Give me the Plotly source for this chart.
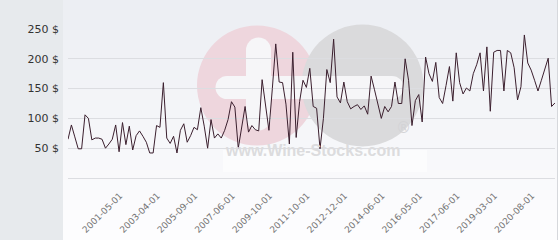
import plotly.graph_objects as go

# ---- data ----
prices = [
    65, 89, 69, 49, 49, 106, 100, 64, 67, 67,
    65, 50, 57, 65, 89, 44, 93, 56, 87, 47,
    71, 79, 70, 60, 42, 42, 88, 85, 160, 67,
    58, 70, 42, 80, 91, 60, 71, 85, 81, 118,
    87, 50, 98, 67, 74, 67, 80, 98, 128, 119,
    50, 85, 120, 77, 88, 81, 79, 165, 120, 80,
    150, 225, 161, 160, 124, 57, 211, 68, 128, 164,
    152, 184, 120, 117, 49, 100, 182, 160, 233, 136,
    126, 161, 128, 116, 120, 123, 115, 121, 107, 171,
    148, 122, 100, 120, 111, 120, 161, 125, 125, 200,
    164, 88, 130, 140, 94, 203, 175, 162, 194, 135,
    125, 155, 187, 129, 210, 160, 141, 151, 146, 175,
    190, 210, 146, 220, 112, 211, 214, 214, 146, 214,
    210, 185, 131, 153, 240, 193, 181, 164, 146, 164,
    181, 201, 120, 126,
]
tick_labels = [
    "2001-05-01", "2003-04-01", "2005-09-01", "2007-06-01", "2009-10-01",
    "2011-10-01", "2012-12-01", "2014-06-01", "2016-05-01", "2017-06-01",
    "2019-03-01", "2020-08-01",
]
y_ticks = [50, 100, 150, 200, 250]
y_tick_text = ["%d\u00a0$" % v for v in y_ticks]

first_tick = 17
tick_step = 11
idx = list(range(len(prices)))
tick_idx = [first_tick + tick_step * k for k in range(len(tick_labels))]

# ---- layout geometry (pixels) ----
FW, FH = 560, 240
L, R, T, B = 68, 5, 29, 62
PW, PH = FW - L - R, FH - T - B


def px(x):
    return (x - L) / PW


def py(y):
    return (T + PH - y) / PH


def rect(x0, x1, y0, y1, color):
    return dict(type="rect", xref="paper", yref="paper", layer="below",
                x0=px(x0), x1=px(x1), y0=py(y1), y1=py(y0),
                fillcolor=color, line_width=0)


def circle(cx, cy, r, color):
    return dict(type="circle", xref="paper", yref="paper", layer="below",
                x0=px(cx - r), x1=px(cx + r), y0=py(cy + r), y1=py(cy - r),
                fillcolor=color, line_width=0)


shapes = []
# gradient background of the chart panel
n_bands = 24
top_c = (236, 238, 243)
bot_c = (253, 253, 254)
for i in range(n_bands):
    t = i / (n_bands - 1)
    c = tuple(round(top_c[k] + (bot_c[k] - top_c[k]) * t) for k in range(3))
    y0 = i * FH / n_bands
    y1 = (i + 1) * FH / n_bands + 0.5
    shapes.append(rect(63, 557, y0, y1, "rgb(%d,%d,%d)" % c))
# left grey panel
shapes.append(rect(0, 63, 0, FH, "#e7eaed"))
# right border
shapes.append(dict(type="line", xref="paper", yref="paper", layer="below",
                   x0=px(557.5), x1=px(557.5), y0=py(0), y1=py(FH),
                   line=dict(color="#d6d8dc", width=1)))

# watermark
WHITE = "#f6f6f8"
shapes.append(circle(257, 85.5, 60, "#eed6dd"))
shapes.append(circle(362.5, 85.5, 61, "#dadadc"))
# horizontal white bar with rounded ends
shapes.append(rect(227, 392, 76, 99, WHITE))
shapes.append(circle(227, 87.5, 11.5, WHITE))
shapes.append(circle(392, 87.5, 11.5, WHITE))
# vertical white bar with rounded ends (pink disc)
shapes.append(rect(246, 271, 50, 118, WHITE))
shapes.append(circle(258.5, 50, 12.5, WHITE))
shapes.append(circle(258.5, 118, 12.5, WHITE))
# faint white box behind the url
shapes.append(rect(223, 427, 150, 172, "rgba(255,255,255,0.55)"))

annotations = [
    dict(text="<b>www.Wine-Stocks.com</b>", xref="paper", yref="paper",
         x=px(312), y=py(161), showarrow=False,
         font=dict(family="Liberation Sans", size=16, color="#dcdcde")),
    dict(text="®", xref="paper", yref="paper", x=px(413), y=py(139),
         showarrow=False, font=dict(family="DejaVu Sans", size=15, color="#d3d3d6")),
]

fig = go.Figure()
fig.add_trace(go.Scatter(x=idx, y=prices, mode="lines",
                         line=dict(color="#3b1f2e", width=1),
                         hoverinfo="skip"))

fig.update_layout(
    width=FW, height=FH, autosize=False,
    margin=dict(l=L, r=R, t=T, b=B, pad=0, autoexpand=False),
    paper_bgcolor="white", plot_bgcolor="rgba(0,0,0,0)",
    showlegend=False,
    shapes=shapes, annotations=annotations,
    xaxis=dict(range=[0, len(prices) - 1], tickmode="array", tickvals=tick_idx,
               ticktext=tick_labels, tickangle=-45, showgrid=False, zeroline=False,
               showline=True, linecolor="#dcdde1", linewidth=1, automargin=False,
               ticks="outside", ticklen=8, tickcolor="rgba(0,0,0,0)",
               ticklabelshift=-6,
               tickfont=dict(family="DejaVu Sans", size=9, color="#747474")),
    yaxis=dict(range=[0, 250], tickmode="array", tickvals=y_ticks, automargin=False,
               ticktext=y_tick_text, showgrid=True, gridcolor="#dcdde1", gridwidth=1,
               zeroline=False, showline=False, ticks="", ticklabelstandoff=8,
               tickfont=dict(family="DejaVu Sans", size=11, color="#333333")),
)

fig.write_html("out.html")
